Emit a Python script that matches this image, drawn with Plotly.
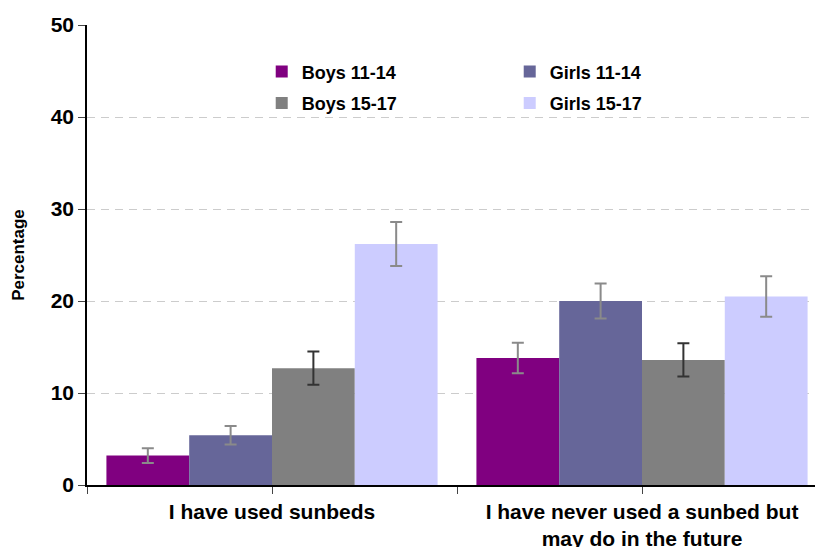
import plotly.graph_objects as go

categories = ["I have used sunbeds", "I have never used a sunbed but<br>may do in the future"]
series_names = ["Boys 11-14", "Girls 11-14", "Boys 15-17", "Girls 15-17"]
boys_11_14 = [3.2, 13.8]
girls_11_14 = [5.4, 20.0]
boys_15_17 = [12.7, 13.6]
girls_15_17 = [26.2, 20.5]
err_boys_11_14 = [0.8, 1.65]
err_girls_11_14 = [1.0, 1.9]
err_boys_15_17 = [1.8, 1.8]
err_girls_15_17 = [2.4, 2.2]
y_ticks = [0, 10, 20, 30, 40, 50]

values = [boys_11_14, girls_11_14, boys_15_17, girls_15_17]
errors = [err_boys_11_14, err_girls_11_14, err_boys_15_17, err_girls_15_17]
colors = ["#800080", "#666699", "#808080", "#CCCCFF"]
err_colors = ["#8a8a8a", "#8a8a8a", "#333333", "#8a8a8a"]
legends = ["legend", "legend", "legend2", "legend2"]

xpos = list(range(len(categories)))

fig = go.Figure()
for name, vals, errs, col, ecol, lg in zip(series_names, values, errors, colors, err_colors, legends):
    fig.add_trace(go.Bar(
        x=xpos, y=vals, name=name, marker=dict(color=col, line=dict(width=0)),
        error_y=dict(type="data", array=errs, visible=True, color=ecol, thickness=2, width=6),
        legend=lg,
    ))

font_family = "Liberation Sans, Arial, sans-serif"
fig.update_layout(
    width=815, height=547,
    margin=dict(l=87, r=0, t=25, b=62, autoexpand=False),
    paper_bgcolor="white", plot_bgcolor="white",
    barmode="group", bargap=0.105, bargroupgap=0,
    font=dict(family=font_family, color="black"),
    legend=dict(orientation="h", x=0.240, y=0.898, xanchor="left", yanchor="middle",
                entrywidth=203, entrywidthmode="pixels", bgcolor="rgba(0,0,0,0)",
                font=dict(size=18, weight="bold", family=font_family), traceorder="normal"),
    legend2=dict(orientation="h", x=0.240, y=0.830, xanchor="left", yanchor="middle",
                 entrywidth=203, entrywidthmode="pixels", bgcolor="rgba(0,0,0,0)",
                 font=dict(size=18, weight="bold", family=font_family), traceorder="normal"),
    xaxis=dict(
        range=[-0.5, 1.5 - 12 / 370], tickmode="array", automargin=False,
        tickvals=[-0.5, 0, 0.5, 1, 1.5], ticktext=[""] + [categories[0], "", categories[1], ""],
        ticks="outside", ticklen=7, tickcolor="#444", tickwidth=1,
        showline=True, linecolor="black", linewidth=1.5, showgrid=False, zeroline=False,
        tickfont=dict(size=21, weight="bold", family=font_family),
    ),
    yaxis=dict(
        range=[0, 50], tickmode="array", tickvals=y_ticks, automargin=False,
        ticks="outside", ticklen=7, tickcolor="#444", tickwidth=1,
        showline=True, linecolor="black", linewidth=1.5,
        showgrid=True, gridcolor="#cccccc", griddash="8px,6px", gridwidth=1, zeroline=False,
        tickfont=dict(size=21, weight="bold", family=font_family),
        title=dict(text="Percentage", font=dict(size=17, weight="bold", family=font_family), standoff=22),
    ),
)

fig.write_html("out.html", config={"displayModeBar": False},
               post_script="document.body.style.margin='0';document.body.style.overflow='hidden';")
